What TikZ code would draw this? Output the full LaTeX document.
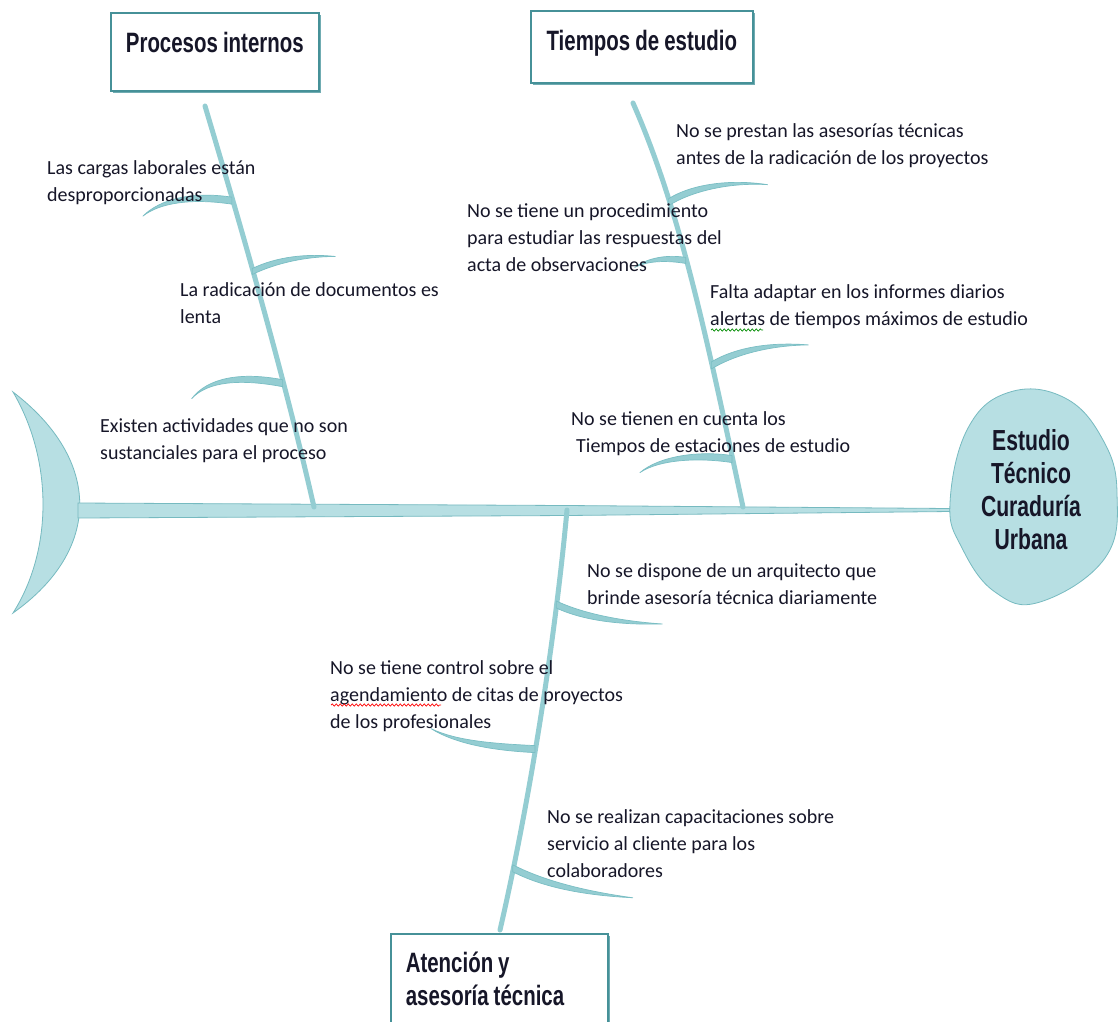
\documentclass[tikz,border=0pt]{standalone}
\usepackage{fontspec}
\setmainfont{Carlito}
\newfontfamily\headfont[FakeStretch=0.73,WordSpace=0.9]{Liberation Sans Bold}
\usetikzlibrary{calc,shadows,decorations.pathmorphing}
\definecolor{bonefill}{RGB}{148,205,210}
\definecolor{boneedge}{RGB}{122,190,196}
\definecolor{lightfill}{RGB}{183,223,227}
\definecolor{lightedge}{RGB}{118,186,192}
\definecolor{boxedge}{RGB}{70,145,152}
\definecolor{boxshadow}{RGB}{112,172,178}
\definecolor{txt}{RGB}{22,22,40}
% tapered sub bone: thick at the main bone (#1), thin at the tip
\newcommand\subbone[5]{%
  \filldraw[bone] (#1) .. controls ($(#1)+#2$) and ($(#1)+#3$) .. ($(#1)+#4$)
    .. controls ($(#1)+#3+0.5*#5$) and ($(#1)+#2+#5$) .. ($(#1)+#5$) -- cycle;}
\begin{document}
\begin{tikzpicture}[x=1pt,y=-1pt,
  catbox/.style={draw=boxedge, line width=1.6pt, fill=white, inner sep=0pt,
    font=\headfont\fontsize{28pt}{33pt}\selectfont, text=txt,
    drop shadow={shadow xshift=2.5pt, shadow yshift=-2.5pt, fill=boxshadow, opacity=1}},
  headtext/.style={align=center, inner sep=0pt, font=\headfont\fontsize{29pt}{33pt}\selectfont, text=txt},
  note/.style={anchor=base west, inner sep=0pt, align=left,
    font=\fontsize{20pt}{27pt}\selectfont, text=txt},
  mainbone/.style={draw=bonefill, line width=5pt, line cap=round},
  bone/.style={fill=bonefill, draw=boneedge, line width=0.7pt, line join=round},
  squiggle/.style={line width=0.7pt, decorate, decoration={snake, amplitude=1.1pt, segment length=4pt}}]
\useasboundingbox (0,0) rectangle (1118,1021);
\fill[white] (0,0) rectangle (1118,1021);

% tail
\coordinate (tail) at (80,510);
\filldraw[fill=lightfill, draw=lightedge, line width=0.8pt]
  (13,392) .. controls (102,460) and (102,550) .. (13,613)
  .. controls (53,550) and (53,460) .. (13,392) -- cycle;

% spine
\filldraw[fill=lightfill, draw=lightedge, line width=0.8pt]
  (78,503) -- (567,505.5) -- (950,508.5) -- (950,511.5) -- (567,515.5) -- (78,518) -- cycle;

% head
\filldraw[fill=lightfill, draw=lightedge, line width=0.8pt]
  plot[smooth cycle, tension=0.7] coordinates {(1010,392) (1065,398) (1103,440) (1117,493)
   (1105,558) (1040,602) (995,592) (962,548) (950,503) (968,428)};
\node[headtext] (head) at (1031,490) {Estudio\\Técnico\\Curaduría\\Urbana};

% category boxes
\node[catbox, anchor=north west, minimum width=208pt, text height=40pt, text depth=38pt]
  (proc) at (110,12) {Procesos internos};
\node[catbox, anchor=north west, minimum width=222pt, text height=40pt, text depth=32pt]
  (tiem) at (530,10) {Tiempos de estudio};
\node[catbox, anchor=north west, align=left, inner xsep=15pt, text width=187pt,
  text height=39pt, text depth=63pt]
  (aten) at (390,933) {Atención\hspace{5pt}y\\asesoría\hspace{5pt}técnica};

% main bones
\coordinate (ptop) at (205,106);
\coordinate (pbot) at (314,507);
\draw[mainbone] (ptop) .. controls (245,240) and (285,380) .. (pbot)
  coordinate[pos=0.225] (pa) coordinate[pos=0.4] (pb) coordinate[pos=0.675] (pc);
\coordinate (ttop) at (633,103);
\coordinate (tbot) at (743,507);
\draw[mainbone] (ttop) .. controls (680,210) and (705,330) .. (tbot)
  coordinate[pos=0.285] (ta) coordinate[pos=0.445] (tb) coordinate[pos=0.7] (tc) coordinate[pos=0.9] (td);
\coordinate (atop) at (567,510);
\coordinate (abot) at (500,930);
\draw[mainbone] (atop) .. controls (555,640) and (530,800) .. (abot)
  coordinate[pos=0.24] (aa) coordinate[pos=0.575] (ab) coordinate[pos=0.855] (ac);

% sub bones
\subbone{pa}{(-40,-6)}{(-72,2)}{(-89,19)}{(0,7)}
\subbone{pb}{(25,-12)}{(55,-15)}{(83,-12)}{(0,6)}
\subbone{pc}{(-42,-8)}{(-75,-2)}{(-91,19)}{(0,7)}
\subbone{ta}{(22,-14)}{(60,-20)}{(99,-14)}{(0,7)}
\subbone{tb}{(-18,-3)}{(-38,0)}{(-51,10)}{(0,6)}
\subbone{tc}{(25,-15)}{(60,-20)}{(97,-17)}{(0,7)}
\subbone{td}{(-32,-5)}{(-72,0)}{(-92,17)}{(0,7)}
\subbone{aa}{(30,14)}{(70,17)}{(106,16)}{(0,-7)}
\subbone{ab}{(-40,-2)}{(-78,-8)}{(-104,-24)}{(0,-7)}
\subbone{ac}{(35,18)}{(80,24)}{(120,26)}{(0,-7)}

% notes (anchored at the baseline of their last line)
\node[note] (n1) at (47,201) {Las cargas laborales están\\desproporcionadas};
\node[note] (n2) at (180,323) {La radicación de documentos es\\lenta};
\node[note] (n3) at (100,459) {Existen actividades que no son\\sustanciales para el proceso};
\node[note] (n4) at (676,164) {No se prestan las asesorías técnicas\\antes de la radicación de los proyectos};
\node[note] (n5) at (467,271) {No se tiene un procedimiento\\para estudiar las respuestas del\\acta de observaciones};
\node[note] (n6) at (710,325) {Falta adaptar en los informes diarios\\alertas de tiempos máximos de estudio};
\node[note] (n7) at (571,452) {No se tienen en cuenta los\\\hspace*{5pt}Tiempos de estaciones de estudio};
\node[note] (n8) at (587,604) {No se dispone de un arquitecto que\\brinde asesoría técnica diariamente};
\node[note] (n9) at (330,728) {No se tiene control sobre el\\agendamiento de citas de proyectos\\de los profesionales};
\node[note] (n10) at (547,877) {No se realizan capacitaciones sobre\\servicio al cliente para los\\colaboradores};

% spell-check squiggles
\draw[squiggle, green!55!black] (711,330) -- (763,330);
\draw[squiggle, red] (331,705) -- (441,705);
\end{tikzpicture}
\end{document}
